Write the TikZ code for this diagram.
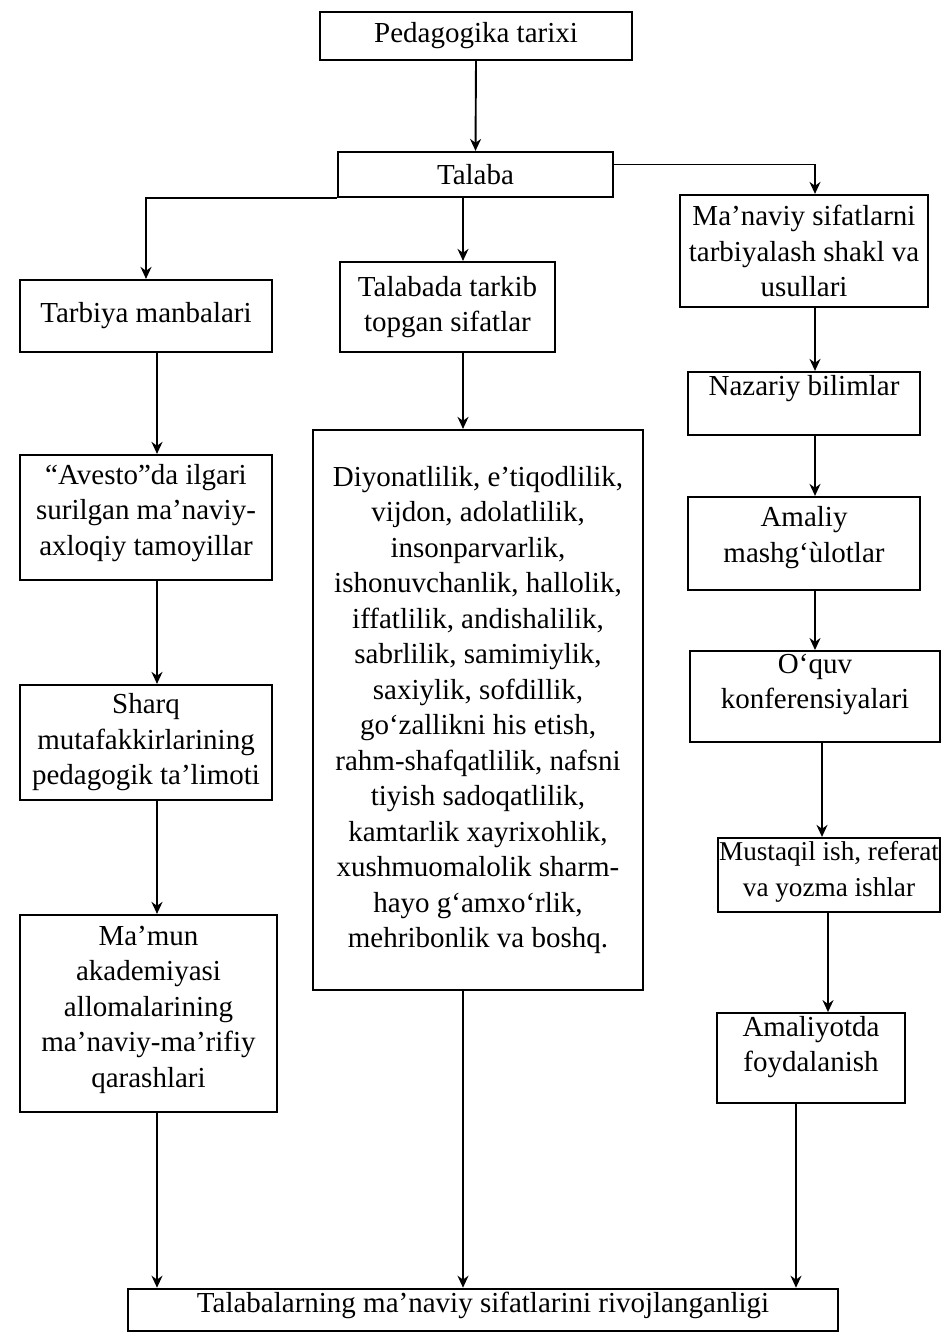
\documentclass[tikz,border=0pt]{standalone}
\usepackage{fontspec}
\setmainfont{Liberation Serif}
\usetikzlibrary{arrows.meta,positioning,calc}
\tikzset{
    box/.style={draw,line width=1.1pt,align=center,inner sep=1.5pt,font=\fontsize{14.5}{17.75}\selectfont},
    arr/.style={-{Stealth[length=6pt,width=5.5pt]},line width=0.95pt},
    lifted/.style={text depth=#1},
}

\begin{document}
\begin{tikzpicture}[x=0.5pt,y=-0.5pt]
    \useasboundingbox (0,0) rectangle (942,1333);
    % columns of the connectors
    \coordinate (lc) at (157,0);
    \coordinate (mc) at (463,0);
    \coordinate (rc) at (815,0);
    \coordinate (rcb) at (822,0);
    \coordinate (rcc) at (828,0);
    \coordinate (rcd) at (796,0);

    \node[box,minimum width=156pt,minimum height=24pt] (ped) at (476,36) {Pedagogika tarixi};
    \node[box,minimum width=137.5pt,minimum height=22.5pt] (tal) at (475.5,174.5) {Talaba};

    % left column
    \node[box,minimum width=126pt,minimum height=36pt] (tarb) at (146,316) {Tarbiya manbalari};
    \node[box,minimum width=126pt,minimum height=62.5pt,lifted=8pt] (ave) at (146,517.5) {“Avesto”da ilgari\\surilgan ma’naviy-\\axloqiy tamoyillar};
    \node[box,minimum width=126pt,minimum height=57.5pt] (sharq) at (146,742.5) {Sharq\\mutafakkirlarining\\pedagogik ta’limoti};
    \node[box,minimum width=128.5pt,minimum height=98.5pt,lifted=7pt] (mamun) at (148.5,1013.5) {Ma’mun\\akademiyasi\\allomalarining\\ma’naviy-ma’rifiy\\qarashlari};

    % middle column
    \node[box,minimum width=107.5pt,minimum height=45pt] (tark) at (447.5,307) {Talabada tarkib\\topgan sifatlar};
    \node[box,minimum width=165pt,minimum height=280pt] (diy) at (478,710) {Diyonatlilik, e’tiqodlilik,\\vijdon, adolatlilik,\\insonparvarlik,\\ishonuvchanlik, hallolik,\\iffatlilik, andishalilik,\\sabrlilik, samimiylik,\\saxiylik, sofdillik,\\go‘zallikni his etish,\\rahm-shafqatlilik, nafsni\\tiyish sadoqatlilik,\\kamtarlik xayrixohlik,\\xushmuomalolik sharm-\\hayo g‘amxo‘rlik,\\mehribonlik va boshq.};

    % right column
    \node[box,minimum width=124pt,minimum height=56pt] (man) at (804,251) {Ma’naviy sifatlarni\\tarbiyalash shakl va\\usullari};
    \node[box,minimum width=116pt,minimum height=31.5pt,lifted=18pt] (naz) at (804,403.5) {Nazariy bilimlar};
    \node[box,minimum width=116pt,minimum height=46.5pt,lifted=9pt] (amal) at (804,543.5) {Amaliy\\mashg‘ùlotlar};
    \node[box,minimum width=125pt,minimum height=41.5pt,lifted=15pt] (oquv) at (815,696.5) {O‘quv\\konferensiyalari};
    \node[box,minimum width=109pt,minimum height=37pt,lifted=6pt,inner sep=0.5pt,font=\fontsize{13.6}{17.75}\selectfont] (must) at (829,875) {Mustaqil ish, referat\\va yozma ishlar};
    \node[box,minimum width=94pt,minimum height=40pt,lifted=14pt] (amt) at (811,1058) {Amaliyotda\\foydalanish};

    \node[box,minimum width=355pt,minimum height=21pt,lifted=8pt] (bot) at (483,1310) {Talabalarning ma’naviy sifatlarini rivojlanganligi};

    % connectors
    \draw[arr] (ped.south) -- (tal.north);
    \draw[arr] (tal.south west) -| (tarb.north);
    \draw[arr] (tal.south -| mc) -- (tark.north -| mc);
    \draw[arr] ($(tal.east)+(0,-10)$) -| (man.north -| rc);

    \draw[arr] (tarb.south -| lc) -- (ave.north -| lc);
    \draw[arr] (ave.south -| lc) -- (sharq.north -| lc);
    \draw[arr] (sharq.south -| lc) -- (mamun.north -| lc);
    \draw[arr] (mamun.south -| lc) -- (bot.north -| lc);

    \draw[arr] (tark.south -| mc) -- (diy.north -| mc);
    \draw[arr] (diy.south -| mc) -- (bot.north -| mc);

    \draw[arr] (man.south -| rc) -- (naz.north -| rc);
    \draw[arr] (naz.south -| rc) -- (amal.north -| rc);
    \draw[arr] (amal.south -| rc) -- (oquv.north -| rc);
    \draw[arr] (oquv.south -| rcb) -- (must.north -| rcb);
    \draw[arr] (must.south -| rcc) -- (amt.north -| rcc);
    \draw[arr] (amt.south -| rcd) -- (bot.north -| rcd);
\end{tikzpicture}
\end{document}
